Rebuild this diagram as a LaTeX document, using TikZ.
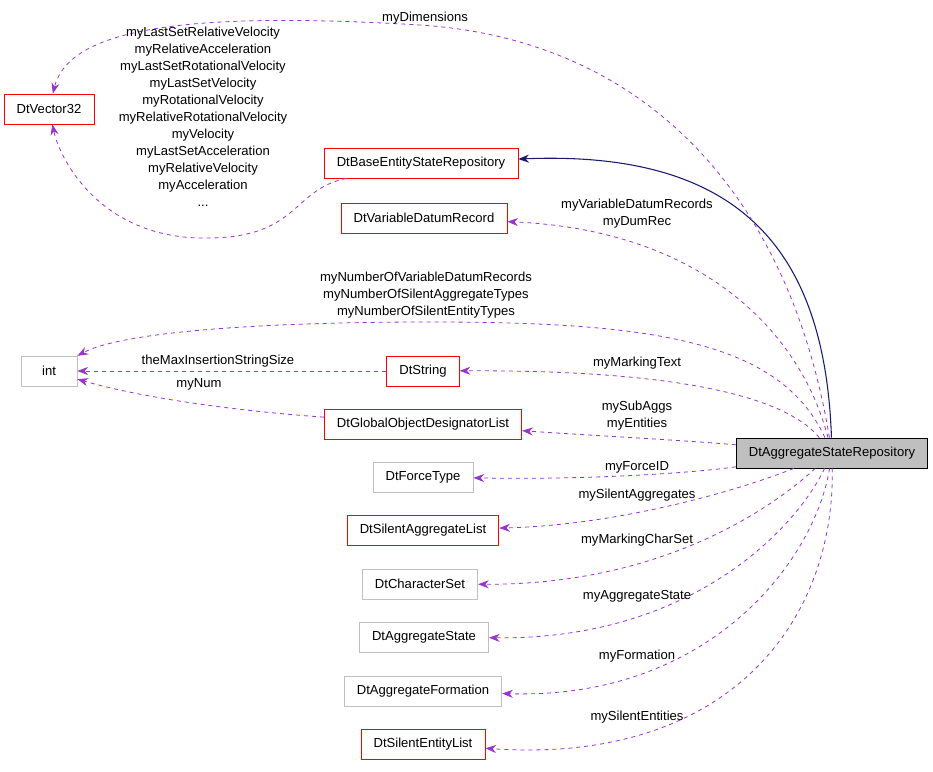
\documentclass[tikz,border=0pt]{standalone}
\usepackage{fontspec}
\setmainfont{Liberation Sans}
\usetikzlibrary{arrows.meta}
\definecolor{relcol}{HTML}{9A32CD}
\definecolor{inhcol}{HTML}{191970}
\definecolor{boxgray}{HTML}{BFBFBF}
\tikzset{
  cls/.style={draw, rectangle, line width=0.6pt, font=\fontsize{9.8}{12.75}\selectfont, minimum height=22.5pt, inner xsep=9.5pt},
  redcls/.style={cls, draw=red},
  graycls/.style={cls, draw=boxgray},
  rel/.style={relcol, draw=relcol, line width=0.6pt, dashed, -{Stealth[length=8pt,width=6pt]}},
  inh/.style={draw=inhcol, thick, -{Stealth[length=8pt,width=6pt]}},
  lbl/.style={font=\fontsize{9.8}{12.75}\selectfont, align=center}
}
\begin{document}
\begin{tikzpicture}[x=0.75pt,y=-0.75pt]
    \useasboundingbox (0,0) rectangle (933,772);

    % classes
    \node[redcls] (vec) at (49,109) {DtVector32};
    \node[redcls] (base) at (421,163) {DtBaseEntityStateRepository};
    \node[redcls] (vdr) at (424,218) {DtVariableDatumRecord};
    \node[graycls, minimum width=42pt] (int) at (49,371) {int};
    \node[redcls] (str) at (423,371) {DtString};
    \node[redcls] (godl) at (423,424) {DtGlobalObjectDesignatorList};
    \node[graycls] (force) at (423,477) {DtForceType};
    \node[redcls] (sal) at (423,530) {DtSilentAggregateList};
    \node[graycls] (cs) at (420,584) {DtCharacterSet};
    \node[graycls] (as) at (424,637) {DtAggregateState};
    \node[graycls] (af) at (423,691) {DtAggregateFormation};
    \node[redcls] (sel) at (423,744) {DtSilentEntityList};
    \node[cls, fill=boxgray] (agg) at (832,453) {DtAggregateStateRepository};

    % inheritance
    \draw[inh] (agg) .. controls (825,250) and (740,150) .. (base);

    % members
    \draw[rel] (agg) .. controls (790,200) and (650,40) .. (420,25)
        .. controls (200,12) and (70,25) .. (vec);
    \draw[rel] (base) .. controls (290,190) and (300,240) .. (200,238)
        .. controls (100,236) and (60,160) .. (vec);
    \draw[rel] (agg) .. controls (800,330) and (700,230) .. (vdr);
    \draw[rel] (agg) .. controls (780,340) and (650,322) .. (430,322)
        .. controls (250,322) and (120,333) .. (int);
    \draw[rel] (str) -- (int);
    \draw[rel] (godl) .. controls (250,412) and (150,400) .. (int);
    \draw[rel] (agg) .. controls (780,390) and (650,370) .. (str);
    \draw[rel] (agg) .. controls (680,440) and (600,436) .. (godl);
    \draw[rel] (agg) .. controls (700,472) and (600,480) .. (force);
    \draw[rel] (agg) .. controls (740,490) and (620,525) .. (sal);
    \draw[rel] (agg) .. controls (770,510) and (660,585) .. (cs);
    \draw[rel] (agg) .. controls (795,530) and (690,640) .. (as);
    \draw[rel] (agg) .. controls (815,560) and (710,700) .. (af);
    \draw[rel] (agg) .. controls (835,620) and (730,765) .. (sel);

    % labels
    \node[lbl] at (425,18) {myDimensions};
    \node[lbl] at (203,117) {myLastSetRelativeVelocity\\myRelativeAcceleration\\myLastSetRotationalVelocity\\myLastSetVelocity\\myRotationalVelocity\\myRelativeRotationalVelocity\\myVelocity\\myLastSetAcceleration\\myRelativeVelocity\\myAcceleration\\...};
    \node[lbl] at (637,214) {myVariableDatumRecords\\myDumRec};
    \node[lbl] at (426,295) {myNumberOfVariableDatumRecords\\myNumberOfSilentAggregateTypes\\myNumberOfSilentEntityTypes};
    \node[lbl] at (218,361) {theMaxInsertionStringSize};
    \node[lbl] at (199,384) {myNum};
    \node[lbl] at (637,363) {myMarkingText};
    \node[lbl] at (637,416) {mySubAggs\\myEntities};
    \node[lbl] at (637,467) {myForceID};
    \node[lbl] at (637,495) {mySilentAggregates};
    \node[lbl] at (637,540) {myMarkingCharSet};
    \node[lbl] at (637,596) {myAggregateState};
    \node[lbl] at (637,656) {myFormation};
    \node[lbl] at (637,717) {mySilentEntities};
\end{tikzpicture}
\end{document}
